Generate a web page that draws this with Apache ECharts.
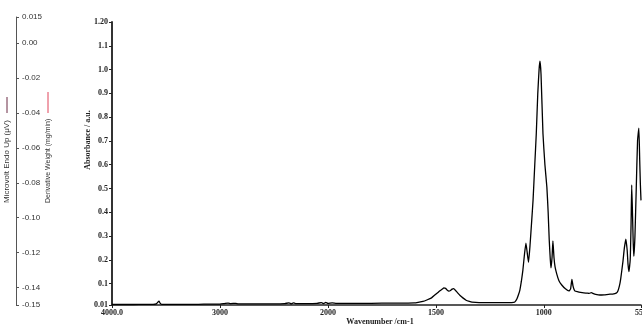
<!DOCTYPE html>
<html>
<head>
<meta charset="utf-8">
<script src="https://cdn.jsdelivr.net/npm/echarts@6/dist/echarts.min.js"></script>
<style>html,body{margin:0;padding:0;background:#fff}#c{width:642px;height:324px}</style>
</head>
<body>
<div id="c"></div>
<script>
// Wavenumber (cm-1) and absorbance (a.u.)
var wavenumbers = [4000,3900,3800,3700,3620,3590,3575,3565,3555,3540,3500,3400,3300,3200,3100,3000,2960,2925,2900,2855,2830,2800,2700,2600,2500,2400,2360,2340,2320,2300,2200,2100,2060,2040,2020,2000,1980,1960,1900,1800,1700,1650,1600,1588,1560,1542,1520,1505,1490,1481,1470,1463,1455,1448,1440,1432,1425,1417,1410,1398,1388,1375,1360,1345,1333,1300,1250,1200,1160,1140,1134,1125,1118,1111,1104,1097,1090,1083,1077,1071,1064,1056,1050,1042,1035,1028,1022,1018,1013,1004,995,986,980,975,970,967,962,958,953,948,940,930,917,900,884,876,870,865,860,856,845,830,815,801,790,780,770,760,741,720,700,681,665,657,650,644,634,627,620,614,610,606,600,596,593,589,586,583,578,572,566,560,556,553,550];
var absorbance  = [0.012,0.012,0.012,0.013,0.013,0.015,0.022,0.026,0.018,0.013,0.013,0.013,0.013,0.013,0.014,0.014,0.016,0.018,0.016,0.017,0.015,0.015,0.015,0.015,0.015,0.016,0.019,0.015,0.019,0.016,0.016,0.017,0.020,0.016,0.021,0.017,0.019,0.017,0.017,0.017,0.018,0.018,0.019,0.020,0.025,0.031,0.040,0.052,0.063,0.070,0.077,0.082,0.080,0.073,0.068,0.071,0.077,0.079,0.072,0.060,0.050,0.040,0.030,0.025,0.022,0.020,0.020,0.020,0.020,0.021,0.023,0.035,0.052,0.073,0.110,0.157,0.220,0.270,0.230,0.190,0.260,0.367,0.450,0.600,0.730,0.900,1.000,1.035,0.980,0.730,0.600,0.506,0.400,0.283,0.200,0.166,0.210,0.280,0.210,0.170,0.140,0.112,0.094,0.078,0.069,0.078,0.118,0.090,0.075,0.069,0.066,0.063,0.061,0.060,0.059,0.062,0.058,0.055,0.052,0.053,0.055,0.056,0.060,0.069,0.090,0.120,0.190,0.250,0.287,0.240,0.180,0.150,0.200,0.350,0.515,0.380,0.270,0.215,0.300,0.500,0.700,0.754,0.620,0.520,0.450];

// Axis tick labels
var xTickWavenumbers = [4000,3000,2000,1500,1000,550];
var xTickLabels = ['4000.0','3000','2000','1500','1000','550'];
var yTickValues = [0.01,0.1,0.2,0.3,0.4,0.5,0.6,0.7,0.8,0.9,1.0,1.1,1.2];
var yTickLabels = ['0.01','0.1','0.2','0.3','0.4','0.5','0.6','0.7','0.8','0.9','1.0','1.1','1.20'];
var leftTickValues = [0.015,0,-0.02,-0.04,-0.06,-0.08,-0.10,-0.12,-0.14,-0.15];
var leftTickLabels = ['0.015','0.00','-0.02','-0.04','-0.06','-0.08','-0.10','-0.12','-0.14','-0.15'];

// Split-scale wavenumber axis: 2x expansion below 2000 cm-1
function toT(wn){ return wn >= 2000 ? (4000 - wn) / 1000 : 2 + (2000 - wn) / 500; }

var xTickT = xTickWavenumbers.map(toT);
var seriesData = wavenumbers.map(function(w, i){ return [toT(w), absorbance[i]]; });

function lookup(vals, labels, v){
  for (var i = 0; i < vals.length; i++) if (Math.abs(vals[i] - v) < 1e-6) return labels[i];
  return '';
}

var serifBold = {fontFamily: '"Liberation Serif", "Times New Roman", serif', fontWeight: 'bold', fontSize: 8, color: '#222'};

var chart = echarts.init(document.getElementById('c'), null, {renderer: 'canvas'});
chart.setOption({
  animation: false,
  backgroundColor: '#fff',
  grid: [
    {left: 112, right: 1, top: 22, bottom: 19, containLabel: false, outerBoundsMode: 'none'},
    {left: 16, width: 10, top: 17, bottom: 19, containLabel: false, outerBoundsMode: 'none'}
  ],
  xAxis: [
    {
      type: 'value', gridIndex: 0, min: 0, max: 4.9,
      splitLine: {show: false},
      axisLine: {show: true, lineStyle: {color: '#222', width: 1.5}},
      axisTick: {show: true, length: 3, customValues: xTickT, lineStyle: {color: '#222'}},
      axisLabel: Object.assign({customValues: xTickT, margin: 4, hideOverlap: false,
        formatter: function(v){ return lookup(xTickT, xTickLabels, v); }}, serifBold)
    },
    {type: 'value', gridIndex: 1, show: false, min: 0, max: 1}
  ],
  yAxis: [
    {
      type: 'value', gridIndex: 0, min: 0.01, max: 1.2,
      splitLine: {show: false},
      axisLine: {show: true, lineStyle: {color: '#333', width: 2}},
      axisTick: {show: true, length: 3, customValues: yTickValues, lineStyle: {color: '#222'}},
      axisLabel: Object.assign({customValues: yTickValues, margin: 4,
        formatter: function(v){ return lookup(yTickValues, yTickLabels, v); }}, serifBold)
    },
    {
      type: 'value', gridIndex: 1, min: -0.15, max: 0.015, position: 'left',
      splitLine: {show: false},
      axisLine: {show: true, lineStyle: {color: '#555', width: 1}},
      axisTick: {show: true, inside: true, length: 3, customValues: leftTickValues, lineStyle: {color: '#555'}},
      axisLabel: {inside: true, margin: 6, customValues: leftTickValues, fontSize: 8,
        fontFamily: '"Liberation Sans", Arial, sans-serif', color: '#333',
        formatter: function(v){ return lookup(leftTickValues, leftTickLabels, v); }}
    }
  ],
  series: [
    {
      type: 'line', xAxisIndex: 0, yAxisIndex: 0, data: seriesData,
      showSymbol: false, symbol: 'none', smooth: 0.15,
      lineStyle: {color: '#000', width: 1.3}
    },
    {type: 'line', xAxisIndex: 1, yAxisIndex: 1, data: [], symbol: 'none'}
  ],
  graphic: [
    {type: 'text', x: 7, y: 203, rotation: Math.PI / 2,
      style: {text: 'Microvolt Endo Up (μV)', textAlign: 'left', textVerticalAlign: 'middle',
        font: '8px "Liberation Sans", Arial, sans-serif', fill: '#333'}},
    {type: 'line', shape: {x1: 7, y1: 113, x2: 7, y2: 97}, style: {stroke: '#6a2a45', lineWidth: 1}},
    {type: 'text', x: 48, y: 203, rotation: Math.PI / 2,
      style: {text: 'Derivative Weight (mg/min)', textAlign: 'left', textVerticalAlign: 'middle',
        font: '7px "Liberation Sans", Arial, sans-serif', fill: '#333'}},
    {type: 'line', shape: {x1: 48, y1: 113, x2: 48, y2: 92}, style: {stroke: '#e0455a', lineWidth: 1}},
    {type: 'text', x: 88, y: 140, rotation: Math.PI / 2,
      style: {text: 'Absorbance / a.u.', textAlign: 'center', textVerticalAlign: 'middle',
        font: 'bold 8px "Liberation Serif", "Times New Roman", serif', fill: '#222'}},
    {type: 'text', x: 380, y: 318,
      style: {text: 'Wavenumber /cm-1', textAlign: 'center', textVerticalAlign: 'top',
        font: 'bold 8px "Liberation Serif", "Times New Roman", serif', fill: '#222'}}
  ]
});
</script>
</body>
</html>
